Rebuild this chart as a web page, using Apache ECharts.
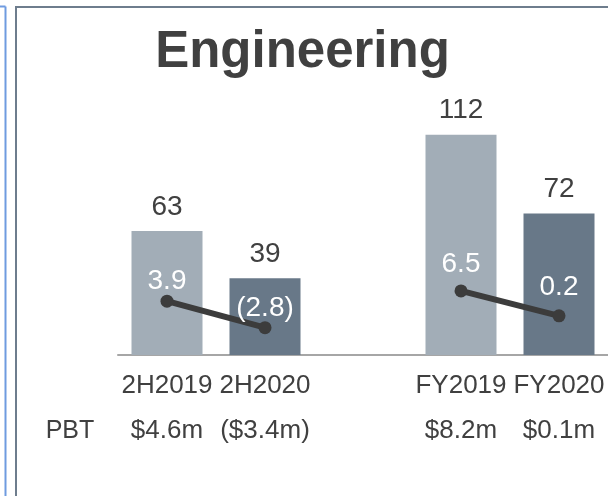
<!DOCTYPE html>
<html>
<head>
<meta charset="utf-8">
<script src="https://cdn.jsdelivr.net/npm/echarts@6/dist/echarts.min.js"></script>
<style>
html,body{margin:0;padding:0;background:#fff;}
#c{width:608px;height:496px;}
</style>
</head>
<body>
<div id="c"></div>
<script>
const categories = ['2H2019', '2H2020', '', 'FY2019', 'FY2020'];
const revenue = [63, 39, null, 112, 72];
const margin = [3.9, -2.8, null, 6.5, 0.2];
const pbt = ['$4.6m', '($3.4m)', '', '$8.2m', '$0.1m'];
const rowLabel = 'PBT';
const chartTitle = 'Engineering';

const LIGHT = '#a2adb7';
const DARK = '#687888';
const FONT = '"Liberation Sans", Arial, sans-serif';

const chart = echarts.init(document.getElementById('c'), null, {renderer: 'canvas'});

const barData = revenue.map((v, i) => v == null ? null : ({
  value: v,
  itemStyle: {color: (i === 0 || i === 3) ? LIGHT : DARK}
}));

const lineDist = [-1, -1, 0, 6, 8];
const lineData = margin.map((v, i) => v == null ? null : ({
  value: v,
  label: {distance: lineDist[i]}
}));

chart.setOption({
  animation: false,
  backgroundColor: '#fff',
  graphic: [
    {type: 'line', shape: {x1: 5.5, y1: 6.5, x2: 5.5, y2: 496}, style: {stroke: '#6f9be0', lineWidth: 2}},
    {type: 'line', shape: {x1: 0, y1: 6.5, x2: 5.5, y2: 6.5}, style: {stroke: '#6f9be0', lineWidth: 2}},
    {type: 'line', shape: {x1: 16, y1: 7, x2: 16, y2: 496}, style: {stroke: '#6e7d8d', lineWidth: 2}},
    {type: 'line', shape: {x1: 15, y1: 7, x2: 608, y2: 7}, style: {stroke: '#6e7d8d', lineWidth: 2}},
    {type: 'text', x: 302.5, y: 53, style: {text: chartTitle, font: 'bold 51px ' + FONT, fill: '#404040', textAlign: 'center', textVerticalAlign: 'middle'}},
    {type: 'text', x: 70, y: 431, style: {text: rowLabel, font: '25px ' + FONT, fill: '#404040', textAlign: 'center', textVerticalAlign: 'middle'}}
  ],
  grid: {left: 118, width: 493.5, top: 119, height: 236, containLabel: false},
  xAxis: {
    type: 'category',
    data: categories,
    axisLine: {lineStyle: {color: '#a6a6a6', width: 2}},
    axisTick: {show: false},
    axisLabel: {
      interval: 0,
      margin: 8,
      formatter: (v, i) => '{a|' + v + '}\n{b|' + pbt[i] + '}',
      rich: {
        a: {fontSize: 26, fontFamily: FONT, color: '#404040', lineHeight: 45},
        b: {fontSize: 26, fontFamily: FONT, color: '#404040', lineHeight: 45}
      }
    }
  },
  yAxis: [
    {type: 'value', min: 0, max: 120, show: false, splitLine: {show: false}},
    {type: 'value', min: -9.72, max: 50, show: false, splitLine: {show: false}}
  ],
  series: [
    {
      type: 'bar',
      data: barData,
      barWidth: 71,
      label: {show: true, position: 'top', distance: 10, fontSize: 28, fontFamily: FONT, color: '#404040'}
    },
    {
      type: 'line',
      yAxisIndex: 1,
      data: lineData,
      connectNulls: false,
      symbol: 'circle',
      symbolSize: 13,
      lineStyle: {color: '#3c3c3c', width: 6},
      itemStyle: {color: '#3c3c3c'},
      label: {
        show: true, position: 'top', fontSize: 28, fontFamily: FONT, color: '#ffffff',
        formatter: p => p.value < 0 ? '(' + Math.abs(p.value).toFixed(1) + ')' : p.value.toFixed(1)
      }
    }
  ]
});
</script>
</body>
</html>
